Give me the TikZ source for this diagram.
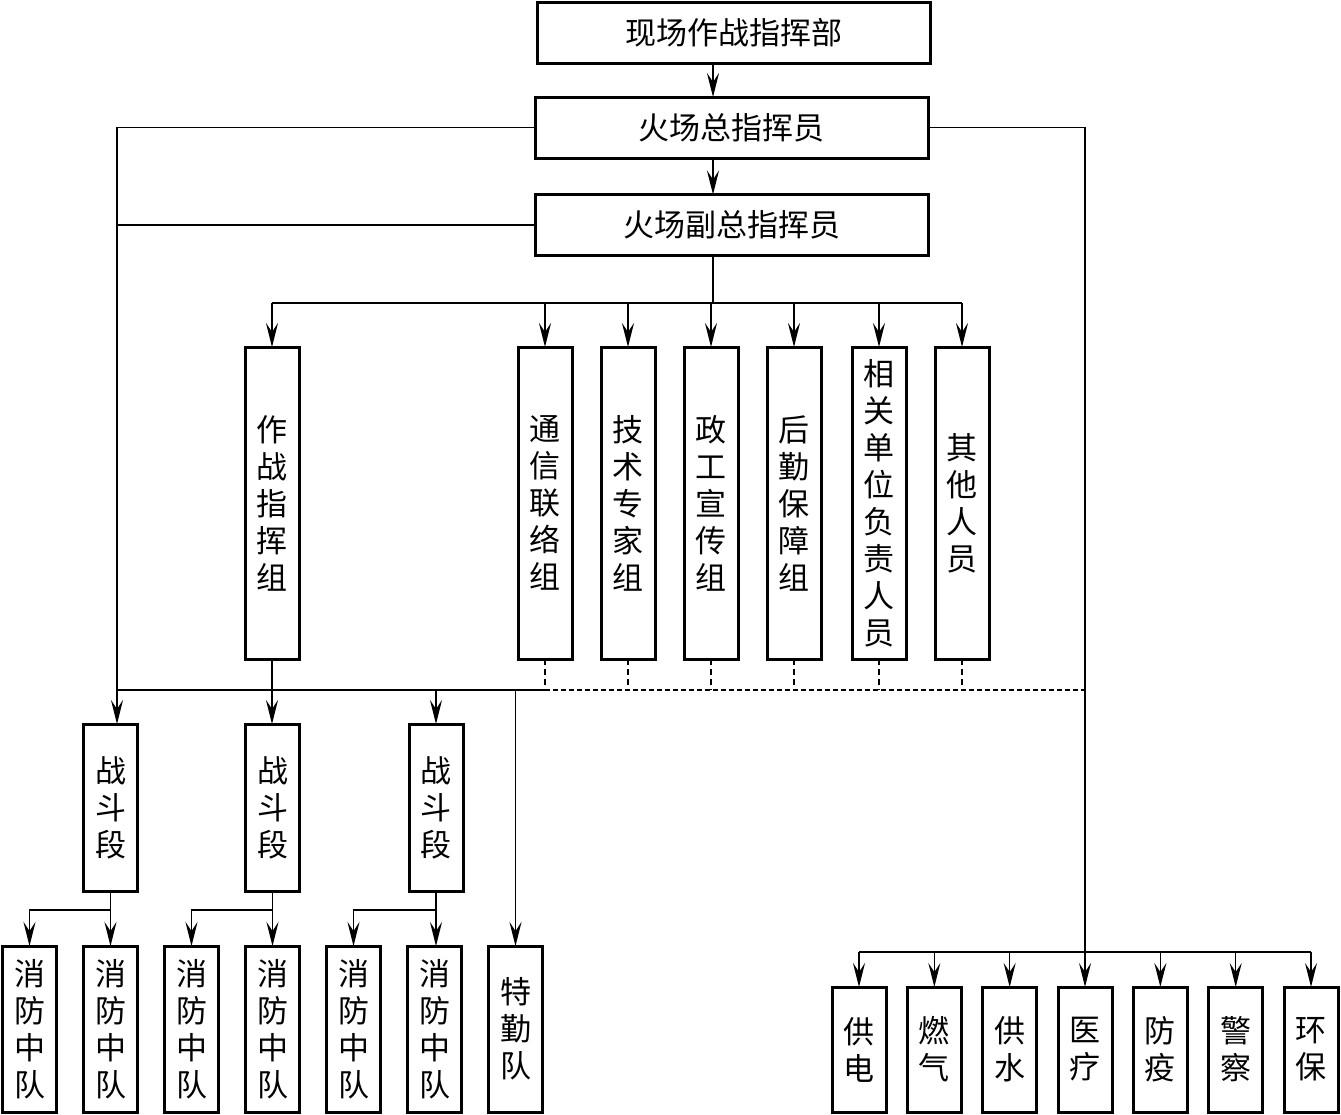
\documentclass[tikz,border=0pt]{standalone}
\usepackage{fontspec}
\setmainfont{Noto Sans CJK SC}
\usetikzlibrary{positioning,arrows.meta}

\begin{document}
\begin{tikzpicture}[
  x=0.5pt,y=-0.5pt,
  font=\fontsize{15.5}{18.5}\selectfont,>={Stealth[length=12pt,width=6pt,inset=4.5pt]},
  topbox/.style={draw,line width=1.5pt,minimum width=196.5pt,minimum height=30.5pt,inner sep=0pt,outer sep=0pt},
  colbox/.style={draw,line width=1.5pt,minimum width=27pt,align=center,inner sep=0pt,outer sep=0pt},
  grp/.style={colbox,minimum height=156pt},
  sec/.style={colbox,minimum height=83.5pt},
  team/.style={colbox,minimum height=83pt},
  ext/.style={colbox,minimum height=62.5pt},
  conn/.style={line width=0.7pt},
  flow/.style={->,line width=0.7pt},
  dline/.style={line width=0.7pt,dash pattern=on 3pt off 2pt},
  hdline/.style={line width=1pt,dash pattern=on 2.5pt off 1.5pt},
]
\useasboundingbox (0,0) rectangle (1341,1115);

% ===== command chain =====
\node[topbox] (hq) at (733.5,32.5) {现场作战指挥部};
\node[topbox] (chief) at (731.5,127.5) {火场总指挥员};
\node[topbox] (vice) at (731.5,225) {火场副总指挥员};
\coordinate (spine) at (713,303);
\draw[flow] (hq.south -| spine) -- (chief.north -| spine);
\draw[flow] (chief.south -| spine) -- (vice.north -| spine);
\draw[conn] (vice.south -| spine) -- (spine);

% ===== working groups =====
\node[grp] (ops) at (272,503) {作\\战\\指\\挥\\组};
\node[grp] (comm) at (545,503) {通\\信\\联\\络\\组};
\node[grp,right=14.5pt of comm] (tech) {技\\术\\专\\家\\组};
\node[grp,right=14.5pt of tech] (prop) {政\\工\\宣\\传\\组};
\node[grp,right=14.5pt of prop] (logi) {后\\勤\\保\\障\\组};
\node[grp,right=15.5pt of logi] (rel) {相\\关\\单\\位\\负\\责\\人\\员};
\node[grp,right=14.5pt of rel] (oth) {其\\他\\人\\员};
\draw[conn] (spine -| ops.north) -- (spine -| oth.north);
\foreach \g in {ops,comm,tech,prop,logi,rel,oth}
  \draw[flow] (spine -| \g.north) -- (\g.north);

% ===== fire teams =====
\node[team] (t1) at (29.5,1029) {消\\防\\中\\队};
\node[team,right=13.5pt of t1] (t2) {消\\防\\中\\队};
\node[team,right=13.5pt of t2] (t3) {消\\防\\中\\队};
\node[team,right=13.5pt of t3] (t4) {消\\防\\中\\队};
\node[team,right=13.5pt of t4] (t5) {消\\防\\中\\队};
\node[team,right=13.5pt of t5] (t6) {消\\防\\中\\队};
\node[team,right=13.5pt of t6] (sp) {特\\勤\\队};

% ===== sections =====
\node[sec] (sec1) at (110.5,807.5) {战\\斗\\段};
\node[sec] (sec2) at (272.5,807.5) {战\\斗\\段};
\node[sec] (sec3) at (436,807.5) {战\\斗\\段};
\foreach \s/\a/\b in {sec1/t1/t2,sec2/t3/t4,sec3/t5/t6}{
  \draw[flow] (\s.south) -- ++(0,19) -| (\a.north);
  \draw[flow] (\s.south) -- (\s.south |- \b.north);
}

% ===== outside units =====
\node[ext] (pw) at (859,1049.5) {供\\电};
\node[ext,right=10.67pt of pw] (gas) {燃\\气};
\node[ext,right=10.67pt of gas] (wat) {供\\水};
\node[ext,right=10.67pt of wat] (med) {医\\疗};
\node[ext,right=10.67pt of med] (epi) {防\\疫};
\node[ext,right=10.67pt of epi] (cop) {警\\察};
\node[ext,right=10.67pt of cop] (env) {环\\保};
\coordinate (rj) at (1085,952);
\draw[flow] (chief.east) -| (med.north);
\draw[conn] (rj -| pw.north) -- (rj -| env.north);
\foreach \e in {pw,gas,wat,epi,cop,env}
  \draw[flow] (rj -| \e.north) -- (\e.north);

% ===== left trunk and lower bus =====
\coordinate (lx) at (117,690);
\draw[conn] (chief.west) -| (lx);
\draw[conn] (vice.west) -- (vice.west -| lx);
\draw[flow] (lx) -- (sec1.north -| lx);
\draw[conn] (lx) -- (lx -| comm.south);
\draw[hdline] (lx -| comm.south) -- (lx -| med.north);
\foreach \g in {comm,tech,prop,logi,rel,oth}
  \draw[dline] (\g.south) -- (lx -| \g.south);
\draw[flow] (ops.south) -- (ops.south |- sec2.north);
\draw[flow] (lx -| sec3.north) -- (sec3.north);
\draw[flow] (lx -| sp.north) -- (sp.north);
\end{tikzpicture}
\end{document}
